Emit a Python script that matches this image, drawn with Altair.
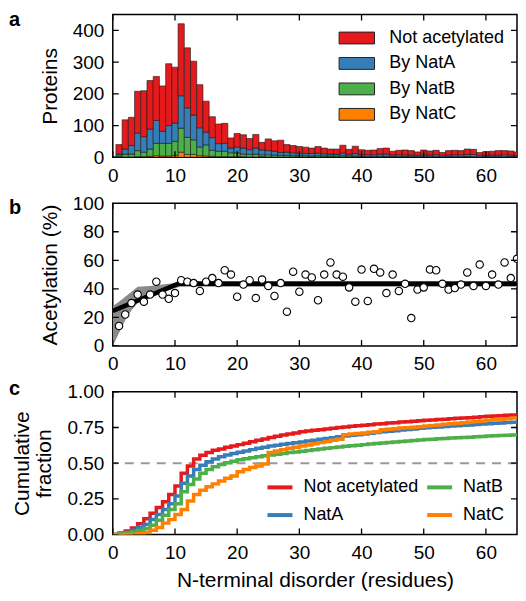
import altair as alt
import pandas as pd

FONT = "Liberation Sans"
RED, BLUE, GREEN, ORANGE = "#e41a1c", "#377eb8", "#4daf4a", "#ff7f00"

X_TICKS = [0, 10, 20, 30, 40, 50, 60]
A_TICKS = [0, 100, 200, 300, 400]
B_TICKS = [0, 20, 40, 60, 80, 100]
C_TICKS = [0, 0.25, 0.5, 0.75, 1.0]

# ---------------- panel a: stacked histogram ----------------
bins = list(range(1, 66))
not_acet = [30, 92, 89, 132, 145, 153, 139, 143, 195, 176,
            227, 189, 170, 136, 98, 66, 62, 63, 32, 43,
            42, 35, 43, 24, 37, 33, 39, 24, 23, 21,
            20, 17, 21, 18, 16, 16, 25, 16, 23, 15,
            14, 15, 18, 19, 12, 14, 15, 14, 11, 15,
            13, 14, 10, 14, 14, 13, 17, 16, 10, 12,
            12, 14, 13, 13, 11]
nat_a = [6, 16, 27, 55, 49, 63, 72, 38, 56, 58,
         102, 93, 78, 61, 40, 40, 24, 25, 15, 18,
         19, 15, 19, 15, 13, 12, 9, 10, 9, 8,
         7, 8, 8, 7, 6, 6, 8, 5, 8, 6,
         6, 6, 7, 7, 5, 6, 5, 5, 4, 6,
         5, 6, 4, 5, 6, 6, 6, 7, 4, 4,
         5, 5, 6, 5, 4]
nat_b = [4, 9, 9, 19, 14, 23, 39, 40, 40, 44,
         76, 54, 46, 27, 35, 19, 17, 17, 12, 12,
         8, 8, 9, 6, 7, 6, 5, 5, 4, 4,
         4, 3, 4, 3, 3, 4, 4, 3, 3, 2,
         2, 1, 2, 3, 2, 1, 2, 2, 1, 2,
         2, 1, 1, 2, 2, 1, 2, 2, 1, 1,
         2, 1, 2, 1, 2]
nat_c = [0, 1, 1, 2, 2, 3, 5, 4, 4, 6,
         16, 9, 9, 5, 4, 3, 2, 2, 2, 2,
         2, 1, 1, 2, 1, 1, 1, 1, 1, 1,
         1, 1, 1, 1, 1, 0, 1, 1, 1, 1,
         0, 1, 1, 0, 0, 1, 1, 0, 1, 0,
         0, 1, 0, 0, 0, 1, 1, 0, 0, 1,
         0, 1, 0, 1, 0]
A_SERIES = ["Not acetylated", "By NatA", "By NatB", "By NatC"]

# ---------------- panel b: acetylation vs disorder ----------------
disorder = list(range(1, 66))
acetylation = [14, 22, 30, 36, 31, 36, 45, 36, 33, 37,
               46, 45, 44, 38.5, 45, 47.5, 44, 53, 50, 34.5,
               43, 46, 33.5, 46.5, 42, 35, 44, 24, 52, 38,
               50, 48, 32, 50, 58.5, 50, 48.5, 41, 31, 53.5,
               31.5, 54, 51.5, 37, 50, 38.5, 43.5, 19.5, 39.5, 41,
               53.5, 53, 43.5, 39.5, 40.5, 43, 51.5, 42, 57, 42,
               50, 43, 58.5, 47.5, 61]
fit_x = [0, 10.5, 65]
fit_y = [24.5, 43.5, 43.5]
band_x = [0, 1, 2, 3, 4, 6, 8, 10, 11, 65]
band_lo = [0, 9, 18, 25, 30, 34, 37.5, 40.5, 41.5, 41.5]
band_hi = [28, 31, 34.5, 38, 41.5, 42, 43, 44, 45.5, 45.5]

# ---------------- panel c: cumulative fractions ----------------
cum_x = list(range(0, 66))
cum_not = [0.000, 0.010, 0.025, 0.045, 0.075, 0.110, 0.150, 0.190, 0.230, 0.280,
           0.340, 0.430, 0.480, 0.530, 0.555, 0.575, 0.590, 0.600, 0.612, 0.620,
           0.630, 0.640, 0.650, 0.660, 0.670, 0.680, 0.688, 0.697, 0.704, 0.712,
           0.720, 0.725, 0.730, 0.735, 0.740, 0.745, 0.750, 0.754, 0.758, 0.762,
           0.766, 0.770, 0.774, 0.777, 0.781, 0.784, 0.788, 0.791, 0.794, 0.797,
           0.800, 0.803, 0.806, 0.808, 0.811, 0.814, 0.817, 0.819, 0.822, 0.825,
           0.828, 0.830, 0.833, 0.835, 0.838, 0.840]
cum_a = [0.000, 0.005, 0.015, 0.030, 0.050, 0.070, 0.105, 0.140, 0.175, 0.215,
         0.270, 0.360, 0.410, 0.455, 0.485, 0.510, 0.530, 0.545, 0.557, 0.567,
         0.577, 0.586, 0.595, 0.604, 0.612, 0.620, 0.626, 0.632, 0.638, 0.643,
         0.648, 0.655, 0.661, 0.667, 0.673, 0.679, 0.685, 0.690, 0.695, 0.700,
         0.705, 0.710, 0.715, 0.720, 0.724, 0.728, 0.732, 0.736, 0.740, 0.744,
         0.748, 0.751, 0.754, 0.757, 0.760, 0.762, 0.765, 0.768, 0.771, 0.774,
         0.777, 0.780, 0.782, 0.785, 0.787, 0.790]
cum_b = [0.000, 0.003, 0.010, 0.018, 0.028, 0.040, 0.065, 0.100, 0.135, 0.175,
         0.215, 0.300, 0.350, 0.390, 0.430, 0.455, 0.475, 0.490, 0.503, 0.514,
         0.524, 0.531, 0.538, 0.545, 0.552, 0.558, 0.563, 0.568, 0.574, 0.579,
         0.584, 0.589, 0.594, 0.599, 0.604, 0.609, 0.614, 0.618, 0.622, 0.626,
         0.630, 0.634, 0.638, 0.642, 0.645, 0.649, 0.652, 0.656, 0.659, 0.663,
         0.666, 0.668, 0.671, 0.673, 0.676, 0.678, 0.680, 0.682, 0.685, 0.687,
         0.690, 0.692, 0.694, 0.696, 0.698, 0.700]
cum_c = [0.000, 0.000, 0.000, 0.000, 0.005, 0.012, 0.030, 0.050, 0.080, 0.105,
         0.140, 0.175, 0.235, 0.280, 0.310, 0.335, 0.355, 0.375, 0.395, 0.410,
         0.440, 0.455, 0.470, 0.480, 0.495, 0.575, 0.585, 0.595, 0.605, 0.612,
         0.620, 0.628, 0.636, 0.644, 0.652, 0.660, 0.668, 0.700, 0.704, 0.708,
         0.712, 0.716, 0.720, 0.735, 0.738, 0.742, 0.746, 0.749, 0.752, 0.756,
         0.760, 0.764, 0.768, 0.772, 0.776, 0.780, 0.784, 0.788, 0.792, 0.796,
         0.800, 0.804, 0.808, 0.812, 0.816, 0.820]
C_SERIES = ["Not acetylated", "NatA", "NatB", "NatC"]
HALF = [0.5]

# ---------------- layout constants ----------------
W, H = 405, 143
TICK = 6

xs = alt.Scale(domain=[0, 65], nice=False, zero=False)
ys_a = alt.Scale(domain=[0, 450], nice=False)
ys_b = alt.Scale(domain=[0, 100], nice=False)
ys_c = alt.Scale(domain=[0, 1], nice=False)

XAX_PLAIN = alt.Axis(values=X_TICKS, labelFlush=False, labelPadding=9, title=None)
XAX_TITLED = alt.Axis(values=X_TICKS, labelFlush=False, labelPadding=9,
                      title="N-terminal disorder (residues)", titlePadding=7)
YAX_A = alt.Axis(values=A_TICKS, title="Proteins")
YAX_B = alt.Axis(values=B_TICKS, title="Acetylation (%)")
YAX_C = alt.Axis(values=C_TICKS, format=".2f", title=["Cumulative", "fraction"], titleLineHeight=22)


def tick_layers(yticks, ys, xax, yax):
    xt = alt.Chart(pd.DataFrame({"tx": X_TICKS}))
    yt = alt.Chart(pd.DataFrame({"ty": yticks}))
    style = dict(color="black", strokeWidth=1.3, clip=True)
    xe = alt.X("tx:Q", scale=xs, axis=xax)
    ye = alt.Y("ty:Q", scale=ys, axis=yax)
    return [
        xt.mark_rule(**style).encode(x=xe, y=alt.value(H), y2=alt.value(H - TICK)),
        xt.mark_rule(**style).encode(x=xe, y=alt.value(0), y2=alt.value(TICK)),
        yt.mark_rule(**style).encode(y=ye, x=alt.value(0), x2=alt.value(TICK)),
        yt.mark_rule(**style).encode(y=ye, x=alt.value(W), x2=alt.value(W - TICK)),
    ]


def letter(t, dy):
    return alt.Chart(pd.DataFrame({"t": [t]})).mark_text(
        align="left", baseline="alphabetic", fontSize=20, fontWeight="bold", font=FONT, color="black"
    ).encode(text="t:N", x=alt.value(-104), y=alt.value(dy))


# panel a
rows = []
for order, (name, vals) in enumerate(zip(A_SERIES[::-1], [nat_c, nat_b, nat_a, not_acet])):
    for b, v in zip(bins, vals):
        rows.append({"pos": b, "series": name, "order": order, "count": v})
dfa = pd.DataFrame(rows)

bars = alt.Chart(dfa).transform_calculate(
    lo="datum.pos - 0.5", hi="datum.pos + 0.5"
).transform_stack(
    stack="count", groupby=["pos"], sort=[alt.SortField("order", order="ascending")], as_=["y0", "y1"]
).mark_bar(stroke="#1a1a1a", strokeWidth=0.6, clip=True).encode(
    x=alt.X("lo:Q", scale=xs, axis=XAX_PLAIN),
    x2="hi:Q",
    y=alt.Y("y0:Q", scale=ys_a, axis=YAX_A),
    y2="y1:Q",
    color=alt.Color(
        "series:N",
        scale=alt.Scale(domain=A_SERIES, range=[RED, BLUE, GREEN, ORANGE]),
        legend=alt.Legend(
            title=None, orient="none", legendX=232, legendY=11,
            symbolType="M-1.5,-0.5L1.5,-0.5L1.5,0.5L-1.5,0.5Z", symbolSize=560,
            symbolStrokeColor="#222", symbolStrokeWidth=1, symbolOpacity=1,
            labelFontSize=18, labelOffset=20, rowPadding=3.5,
        ),
    ),
)
panel_a = alt.layer(bars, *tick_layers(A_TICKS, ys_a, XAX_PLAIN, YAX_A), letter("a", 11)).properties(width=W, height=H)

# panel b
dfb = pd.DataFrame({"x": disorder, "acet": acetylation})
band = alt.Chart(pd.DataFrame({"x": band_x, "lo": band_lo, "hi": band_hi})).mark_area(
    color="#8a8a8a", opacity=1, clip=True
).encode(
    x=alt.X("x:Q", scale=xs, axis=XAX_PLAIN),
    y=alt.Y("lo:Q", scale=ys_b, axis=YAX_B),
    y2="hi:Q",
)
fit = alt.Chart(pd.DataFrame({"x": fit_x, "y": fit_y})).mark_line(color="black", strokeWidth=4.5, clip=True).encode(
    x=alt.X("x:Q", scale=xs, axis=XAX_PLAIN), y=alt.Y("y:Q", scale=ys_b, axis=YAX_B)
)
pts = alt.Chart(dfb).mark_circle(color="white", stroke="black", strokeWidth=1.1, size=55, opacity=1, clip=True).encode(
    x=alt.X("x:Q", scale=xs, axis=XAX_PLAIN), y=alt.Y("acet:Q", scale=ys_b, axis=YAX_B)
)
panel_b = alt.layer(band, fit, pts, *tick_layers(B_TICKS, ys_b, XAX_PLAIN, YAX_B), letter("b", 11)).properties(width=W, height=H)

# panel c
rows = []
for name, vals in zip(["Not acetylated", "NatA", "NatB", "NatC"], [cum_not, cum_a, cum_b, cum_c]):
    for x, v in zip(cum_x, vals):
        rows.append({"x": x, "frac": v, "group": name})
dfc = pd.DataFrame(rows)
half = alt.Chart(pd.DataFrame({"h": HALF})).mark_rule(
    color="#999999", strokeDash=[9, 7], strokeWidth=2, clip=True
).encode(y=alt.Y("h:Q", scale=ys_c, axis=YAX_C))
lines = alt.Chart(dfc).mark_line(interpolate="step-after", strokeWidth=3.5, clip=True).encode(
    x=alt.X("x:Q", scale=xs, axis=XAX_TITLED),
    y=alt.Y("frac:Q", scale=ys_c, axis=YAX_C),
    color=alt.Color(
        "group:N",
        scale=alt.Scale(domain=C_SERIES, range=[RED, BLUE, GREEN, ORANGE]),
        legend=alt.Legend(
            title=None, orient="none", legendX=153, legendY=81, columns=2,
            symbolType="stroke", symbolSize=625, symbolStrokeWidth=4,
            labelFontSize=18, labelOffset=9, columnPadding=0, rowPadding=4,
        ),
    ),
    order=alt.Order("x:Q"),
)
panel_c = alt.layer(half, lines, *tick_layers(C_TICKS, ys_c, XAX_TITLED, YAX_C), letter("c", 3)).properties(width=W, height=H)

chart = alt.vconcat(panel_a, panel_b, panel_c, spacing=46, bounds="flush").resolve_scale(
    color="independent"
).resolve_legend(color="independent").properties(
    padding={"top": 0, "left": 0, "right": 0, "bottom": 0}
).configure(font=FONT).configure_view(
    stroke="black", strokeWidth=1.5
).configure_axis(
    labelFont=FONT, titleFont=FONT, labelFontSize=19, titleFontSize=21, titleFontWeight="normal",
    labelColor="black", titleColor="black", grid=False, domain=False, ticks=False,
    labelPadding=9, titlePadding=12,
).configure_legend(labelFont=FONT, labelColor="black")

chart.save("out.html", embed_options={"renderer": "svg", "actions": False})
